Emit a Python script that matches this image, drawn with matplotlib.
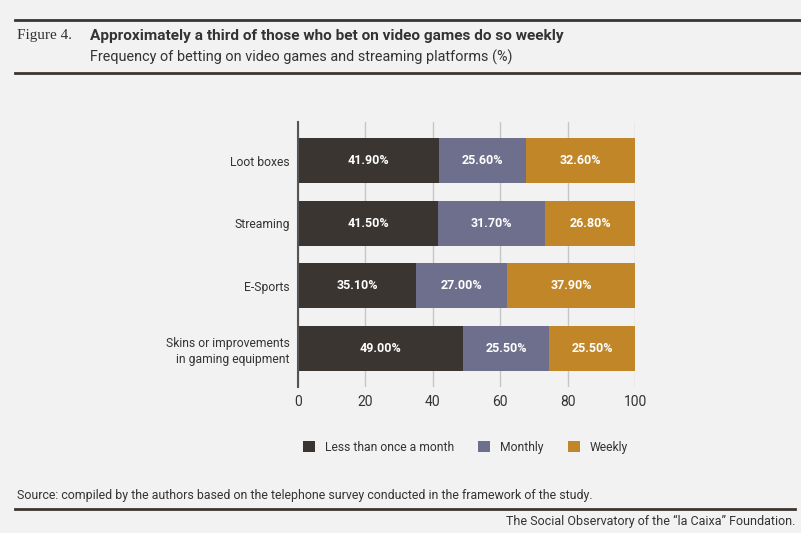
import matplotlib
matplotlib.use("Agg")
import matplotlib.pyplot as plt
from matplotlib.lines import Line2D
from matplotlib.patches import Patch
import numpy as np

CATEGORIES = ["Loot boxes", "Streaming", "E-Sports",
              "Skins or improvements\nin gaming equipment"]
LESS_THAN_MONTHLY = [41.9, 41.5, 35.1, 49.0]
MONTHLY = [25.6, 31.7, 27.0, 25.5]
WEEKLY = [32.6, 26.8, 37.9, 25.5]
SERIES_LABELS = ["Less than once a month", "Monthly", "Weekly"]
XTICKS = [0, 20, 40, 60, 80, 100]

COLORS = ["#3a3530", "#6e6f8c", "#c08628"]
BG = "#f2f2f2"
INK = "#333333"

plt.rcParams["font.family"] = ["Roboto", "DejaVu Sans"]

fig = plt.figure(figsize=(8.01, 5.33), dpi=100, facecolor=BG)
ax = fig.add_axes([0.372, 0.274, 0.421, 0.497])
ax.set_facecolor(BG)

y = np.arange(len(CATEGORIES))
left = np.zeros(len(CATEGORIES))
for vals, color in zip([LESS_THAN_MONTHLY, MONTHLY, WEEKLY], COLORS):
    bars = ax.barh(y, vals, height=0.715, left=left, color=color, zorder=3)
    ax.bar_label(bars, labels=[f"{v:.2f}%" for v in vals], label_type="center",
                 color="white", fontweight="bold", fontsize=9)
    left += np.array(vals)

ax.set_xlim(0, 100)
ax.set_ylim(len(CATEGORIES) - 0.38, -0.62)
ax.set_yticks(y)
ax.set_yticklabels(CATEGORIES, fontsize=8.7, color=INK, linespacing=1.3)
ax.set_xticks(XTICKS)
ax.set_xticklabels([str(t) for t in XTICKS], fontsize=10, color=INK)
ax.tick_params(length=0, pad=6)
ax.grid(axis="x", color="#c6c6c6", linewidth=1, zorder=0)
for side in ["top", "right", "bottom"]:
    ax.spines[side].set_visible(False)
ax.spines["left"].set_color("#555555")
ax.spines["left"].set_linewidth(1.5)
ax.spines["left"].set_zorder(4)

# header
fig.add_artist(Line2D([15 / 801, 1], [0.9625, 0.9625], color="#3a3530", linewidth=2))
fig.add_artist(Line2D([15 / 801, 1], [0.863, 0.863], color="#3a3530", linewidth=2))
fig.text(17 / 801, 1 - 36 / 533, "Figure 4.", family=["Liberation Serif", "DejaVu Serif"],
         fontsize=11, color=INK, va="center")
fig.text(90 / 801, 1 - 36 / 533,
         "Approximately a third of those who bet on video games do so weekly",
         fontsize=11.1, fontweight="bold", color=INK, va="center")
fig.text(90 / 801, 1 - 57 / 533,
         "Frequency of betting on video games and streaming platforms (%)",
         fontsize=10.4, color=INK, va="center")

# legend
handles = [Patch(facecolor=c, edgecolor="none") for c in COLORS]
fig.legend(handles, SERIES_LABELS, loc="center", bbox_to_anchor=(0.581, 0.161),
           ncol=3, frameon=False, fontsize=8.7, handlelength=1.0, handleheight=1.0,
           columnspacing=2.0, handletextpad=0.8, labelcolor=INK)

# footer
fig.text(17 / 801, 1 - 495 / 533,
         "Source: compiled by the authors based on the telephone survey conducted in the framework of the study.",
         fontsize=8.9, color=INK, va="center")
fig.add_artist(Line2D([15 / 801, 795 / 801], [1 - 509 / 533, 1 - 509 / 533],
                      color="#3a3530", linewidth=2))
fig.text(795 / 801, 1 - 521 / 533, "The Social Observatory of the \u201cla Caixa\u201d Foundation.",
         fontsize=9.0, color=INK, va="center", ha="right")

fig.savefig("out.png", dpi=100, facecolor=BG)
